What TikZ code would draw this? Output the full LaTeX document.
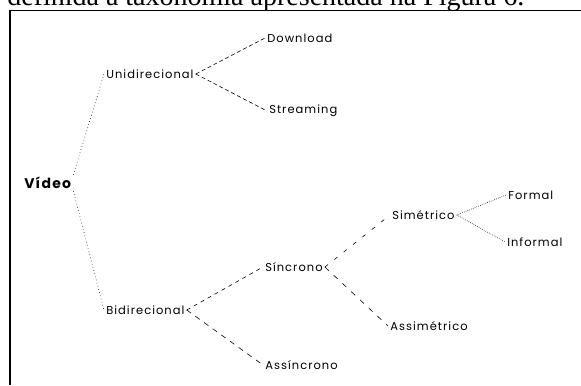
\documentclass[tikz,border=0pt]{standalone}
\usepackage{fontspec}
\setmainfont{Liberation Serif}
\newfontfamily\taxfont[LetterSpace=9]{Poppins}
\tikzset{
  tax/.style={font=\taxfont\fontsize{8.6}{10}\selectfont, inner sep=1.5pt, anchor=west},
  taxroot/.style={font=\taxfont\fontsize{10.5}{12}\selectfont\bfseries, inner sep=1.5pt, anchor=west},
  link/.style={line width=0.45pt}
}
\begin{document}
\begin{tikzpicture}[x=0.75pt,y=-0.75pt]
		\useasboundingbox (0,0) rectangle (581,385);
		\clip (0,0) rectangle (581,385);
		% cut-off line of the page above the figure
		\node[anchor=base west, inner sep=0pt, font=\fontsize{21}{24}\selectfont] (caption) at (7,6) {definida a taxonomia apresentada na Figura 6.};
		% frame
		\draw[line width=1.3pt] (10,385) -- (10,10.5) -- (155,10.5);
		\draw[line width=0.6pt] (155,10.5) -- (581,10.5);
		% taxonomy
		\node[taxroot] (video) at (22,183) {Vídeo};
		\node[tax] (uni) at (104,74) {Unidirecional};
		\node[tax] (down) at (265,38) {Download};
		\node[tax] (stream) at (267,111) {Streaming};
		\node[tax] (bi) at (104,310) {Bidirecional};
		\node[tax] (sinc) at (263,267) {Síncrono};
		\node[tax] (assinc) at (263,365) {Assíncrono};
		\node[tax] (sim) at (390,215) {Simétrico};
		\node[tax] (assim) at (388,326) {Assimétrico};
		\node[tax] (formal) at (506,195) {Formal};
		\node[tax] (informal) at (505,242) {Informal};
		\draw[link, dotted] (video.north east) -- (uni.west);
		\draw[link, dotted] (video.south east) -- (bi.west);
		\draw[link, densely dashed] (uni.east) -- (down.west);
		\draw[link, densely dashed] (uni.east) -- (stream.west);
		\draw[link, dashed] (bi.east) -- (sinc.west);
		\draw[link, dash pattern=on 4pt off 4pt] (bi.east) -- (assinc.west);
		\draw[link, loosely dashed] (sinc.east) -- (sim.west);
		\draw[link, dash pattern=on 4pt off 5pt] (sinc.east) -- (assim.west);
		\draw[link, densely dotted] (sim.east) -- (formal.west);
		\draw[link, densely dotted] (sim.east) -- (informal.west);
\end{tikzpicture}
\end{document}
